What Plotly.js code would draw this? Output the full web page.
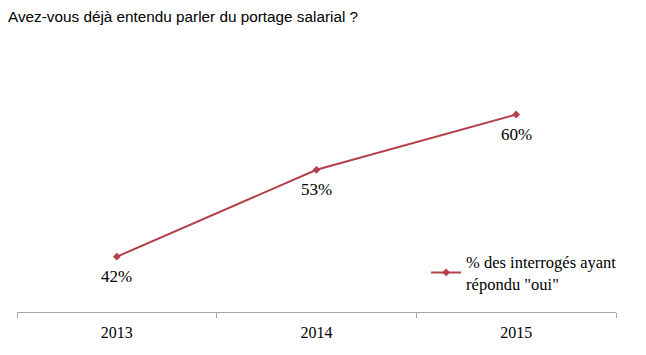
<!DOCTYPE html>
<html>
<head>
<meta charset="utf-8">
<script src="https://cdn.plot.ly/plotly-3.0.1.min.js"></script>
<style>html,body{margin:0;padding:0;background:#fff;}#chart{width:646px;height:355px;}</style>
</head>
<body>
<div id="chart"></div>
<script>
const years = ["2013", "2014", "2015"];
const values = [42, 53, 60];
const seriesName = "% des interrogés ayant<br>répondu \"oui\"";
const chartTitle = "Avez-vous déjà entendu parler du portage salarial ?";

const serif = "Liberation Serif, Times New Roman, serif";

const trace = {
  type: "scatter",
  mode: "lines+markers",
  x: years,
  y: values,
  name: seriesName,
  line: {color: "#B3404A", width: 2},
  marker: {symbol: "diamond", size: 6, color: "#B3404A"},
  cliponaxis: false
};

// category axis: annotation x uses the category index
const labelAnnotations = years.map((yr, i) => ({
  x: i, y: values[i], xref: "x", yref: "y",
  text: values[i] + "%",
  showarrow: false,
  yshift: -20,
  xanchor: "center", yanchor: "middle",
  font: {family: serif, size: 17, color: "#000"}
}));

const layout = {
  width: 646, height: 355,
  paper_bgcolor: "#fff", plot_bgcolor: "#fff",
  margin: {l: 17, r: 30, t: 75, b: 43},
  title: {
    text: chartTitle,
    x: 8 / 646, xanchor: "left", xref: "container",
    y: 0.953, yanchor: "middle", yref: "container",
    font: {family: "Liberation Sans, Arial, sans-serif", size: 15.3, color: "#000"}
  },
  xaxis: {
    type: "category",
    range: [-0.5, 2.5],
    showline: true, linecolor: "#a6a6a6", linewidth: 1,
    ticks: "outside", tickson: "boundaries", ticklen: 5, tickcolor: "#a6a6a6",
    ticklabelstandoff: 6,
    showgrid: false, zeroline: false,
    tickfont: {family: serif, size: 16, color: "#000"}
  },
  yaxis: {
    range: [35, 65],
    visible: false, showgrid: false, zeroline: false
  },
  annotations: labelAnnotations,
  showlegend: true,
  legend: {
    x: 0.683, y: 0.285, xanchor: "left", yanchor: "top",
    bgcolor: "rgba(0,0,0,0)",
    font: {family: serif, size: 16.5, color: "#000"},
    itemwidth: 30
  }
};

Plotly.newPlot("chart", [trace], layout, {displayModeBar: false, staticPlot: true});
</script>
</body>
</html>
